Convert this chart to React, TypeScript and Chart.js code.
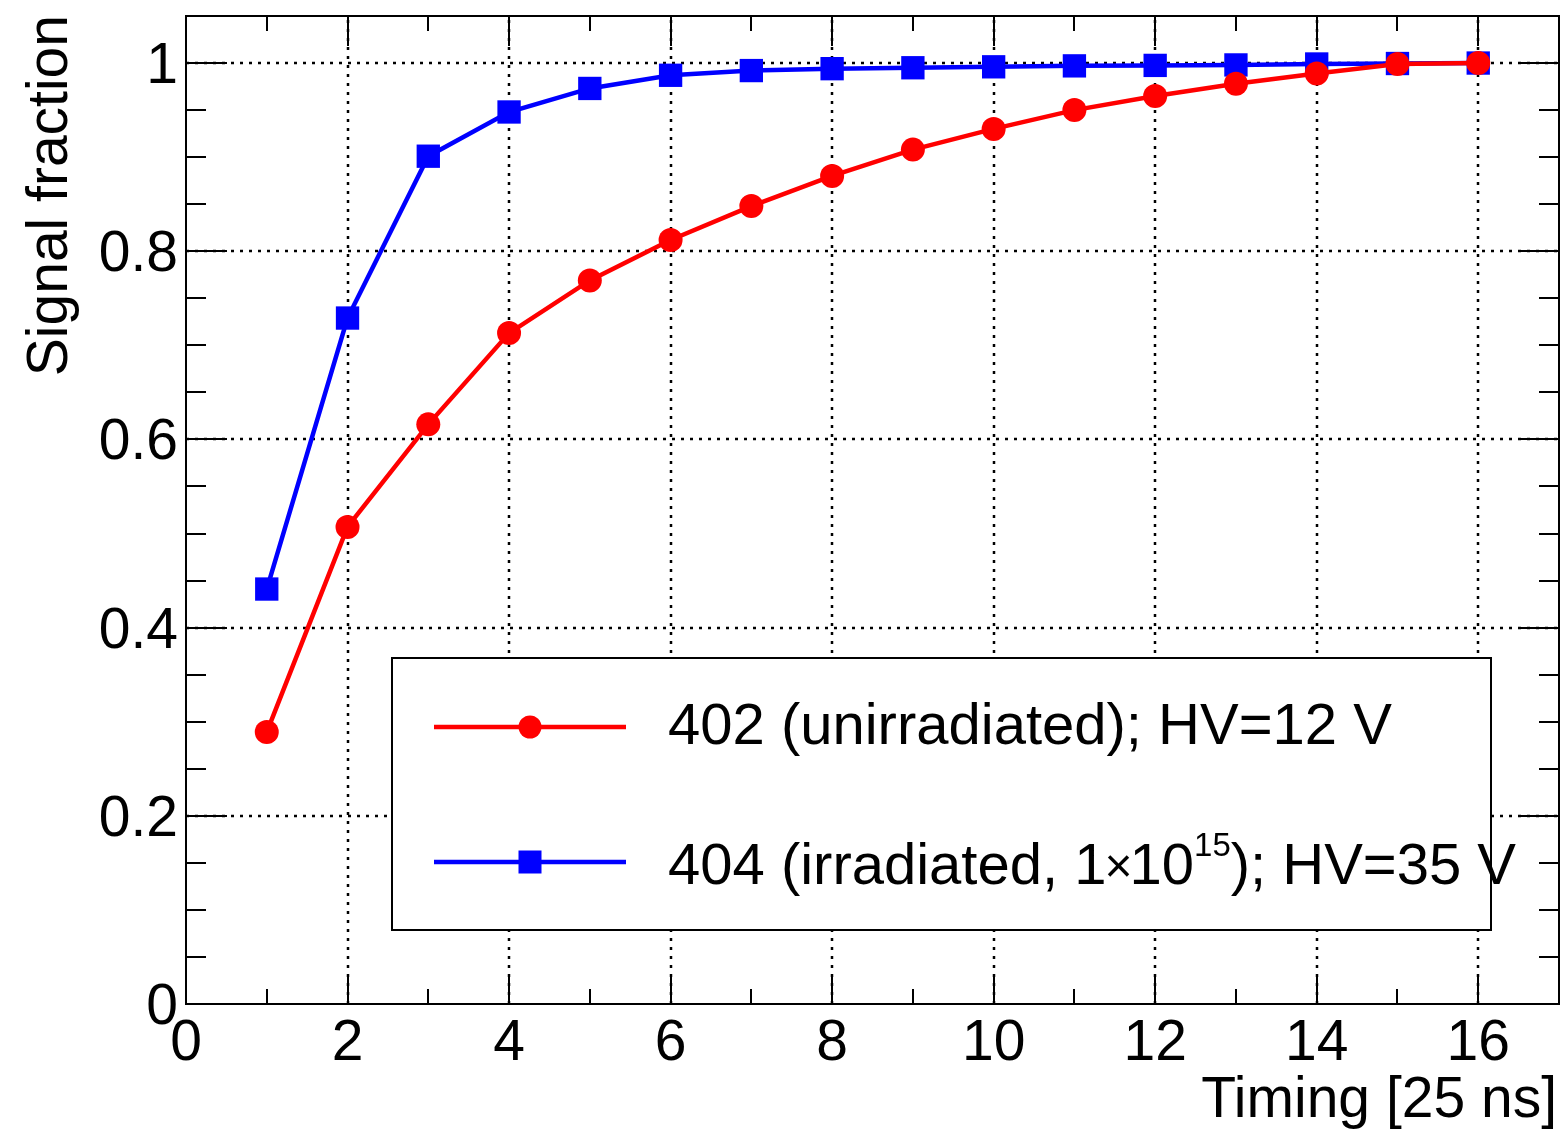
import React, { useEffect, useRef } from "react";
import { Chart, registerables } from "chart.js";

Chart.register(...registerables);

// ---- data ----
const timing = [1, 2, 3, 4, 5, 6, 7, 8, 9, 10, 11, 12, 13, 14, 15, 16];
const unirradiated402 = [0.289, 0.507, 0.616, 0.713, 0.769, 0.812, 0.848, 0.880, 0.908, 0.930, 0.950, 0.965, 0.978, 0.989, 0.999, 1.0];
const irradiated404 = [0.441, 0.729, 0.901, 0.948, 0.973, 0.987, 0.992, 0.994, 0.995, 0.996, 0.997, 0.9975, 0.998, 0.999, 0.9995, 1.0];

const xMajorTicks = [0, 2, 4, 6, 8, 10, 12, 14, 16];
const xMinorTicks = [1, 3, 5, 7, 9, 11, 13, 15];
const xTickLabels = ["0", "2", "4", "6", "8", "10", "12", "14", "16"];
const yMajorTicks = [0, 0.2, 0.4, 0.6, 0.8, 1.0];
const yTickLabels = ["0", "0.2", "0.4", "0.6", "0.8", "1"];
const yMinorTicks = [0.05, 0.1, 0.15, 0.25, 0.3, 0.35, 0.45, 0.5, 0.55, 0.65, 0.7, 0.75, 0.85, 0.9, 0.95];
const xGrid = [2, 4, 6, 8, 10, 12, 14, 16];
const yGrid = [0.2, 0.4, 0.6, 0.8, 1.0];

const seriesNames = ["402 (unirradiated); HV=12 V", "404 (irradiated, 1\u00d710^15); HV=35 V"];
const xTitle = "Timing [25 ns]";
const yTitle = "Signal fraction";

const RED = "#ff0000";
const BLUE = "#0000ff";
const FONT = '"Liberation Sans", Arial, Helvetica, sans-serif';

const rootPlugin = {
  id: "rootStyle",
  beforeDatasetsDraw(chart: any) {
    const { ctx, chartArea, scales } = chart;
    const xs = scales.x;
    const ys = scales.y;
    ctx.save();
    ctx.strokeStyle = "#000";
    ctx.lineWidth = 2.5;
    ctx.setLineDash([3, 6]);
    for (const v of xGrid) {
      const px = Math.round(xs.getPixelForValue(v));
      ctx.beginPath();
      ctx.moveTo(px, chartArea.bottom);
      ctx.lineTo(px, chartArea.top);
      ctx.stroke();
    }
    for (const v of yGrid) {
      const py = Math.round(ys.getPixelForValue(v));
      ctx.beginPath();
      ctx.moveTo(chartArea.left, py);
      ctx.lineTo(chartArea.right, py);
      ctx.stroke();
    }
    ctx.restore();
  },
  afterDatasetsDraw(chart: any) {
    const { ctx, chartArea, scales } = chart;
    const xs = scales.x;
    const ys = scales.y;
    const L = chartArea.left, R = chartArea.right, T = chartArea.top, B = chartArea.bottom;
    ctx.save();

    // legend box
    const lx0 = 392, ly0 = 658, lx1 = 1491, ly1 = 930;
    ctx.fillStyle = "#fff";
    ctx.fillRect(lx0, ly0, lx1 - lx0, ly1 - ly0);
    ctx.strokeStyle = "#000";
    ctx.lineWidth = 2;
    ctx.setLineDash([]);
    ctx.strokeRect(lx0, ly0, lx1 - lx0, ly1 - ly0);

    // legend entries
    const rows = [727, 862];
    ctx.strokeStyle = RED;
    ctx.lineWidth = 4.5;
    ctx.beginPath();
    ctx.moveTo(434, rows[0]);
    ctx.lineTo(626, rows[0]);
    ctx.stroke();
    ctx.fillStyle = RED;
    ctx.beginPath();
    ctx.arc(530, rows[0], 11.5, 0, Math.PI * 2);
    ctx.fill();
    ctx.strokeStyle = BLUE;
    ctx.beginPath();
    ctx.moveTo(434, rows[1]);
    ctx.lineTo(626, rows[1]);
    ctx.stroke();
    ctx.fillStyle = BLUE;
    ctx.fillRect(530 - 11.5, rows[1] - 11.5, 23, 23);

    ctx.fillStyle = "#000";
    ctx.textBaseline = "alphabetic";
    ctx.textAlign = "left";
    ctx.font = `58px ${FONT}`;
    ctx.fillText(seriesNames[0], 668, 744);

    // second entry with superscript
    const parts1 = seriesNames[1].split("^");
    const pre = parts1[0];
    const rest = parts1[1];
    const sup = rest.slice(0, 2);
    const post = rest.slice(2);
    const timesIdx = pre.indexOf("\u00d7");
    const preA = pre.slice(0, timesIdx);
    const preB = pre.slice(timesIdx + 1);
    let cx = 668;
    const base = 884;
    ctx.font = `58px ${FONT}`;
    ctx.fillText(preA, cx, base);
    cx += ctx.measureText(preA).width - 2;
    ctx.font = `48px ${FONT}`;
    ctx.fillText("\u00d7", cx, base - 2);
    cx += ctx.measureText("\u00d7").width - 3;
    ctx.font = `58px ${FONT}`;
    ctx.fillText(preB, cx, base);
    cx += ctx.measureText(preB).width;
    ctx.font = `33px ${FONT}`;
    ctx.fillText(sup, cx, 856);
    cx += ctx.measureText(sup).width;
    ctx.font = `58px ${FONT}`;
    ctx.fillText(post, cx, base);

    // frame
    ctx.strokeStyle = "#000";
    ctx.lineWidth = 2;
    ctx.strokeRect(L, T, R - L, B - T);

    // ticks
    ctx.lineWidth = 2;
    ctx.beginPath();
    for (const v of xMajorTicks) {
      const px = Math.round(xs.getPixelForValue(v));
      ctx.moveTo(px, B); ctx.lineTo(px, B - 30);
      ctx.moveTo(px, T); ctx.lineTo(px, T + 30);
    }
    for (const v of xMinorTicks) {
      const px = Math.round(xs.getPixelForValue(v));
      ctx.moveTo(px, B); ctx.lineTo(px, B - 15);
      ctx.moveTo(px, T); ctx.lineTo(px, T + 15);
    }
    for (const v of yMajorTicks) {
      const py = Math.round(ys.getPixelForValue(v));
      ctx.moveTo(L, py); ctx.lineTo(L + 41, py);
      ctx.moveTo(R, py); ctx.lineTo(R - 41, py);
    }
    for (const v of yMinorTicks) {
      const py = Math.round(ys.getPixelForValue(v));
      ctx.moveTo(L, py); ctx.lineTo(L + 20, py);
      ctx.moveTo(R, py); ctx.lineTo(R - 20, py);
    }
    ctx.stroke();

    // tick labels
    ctx.fillStyle = "#000";
    ctx.font = `57px ${FONT}`;
    ctx.textAlign = "center";
    ctx.textBaseline = "alphabetic";
    xMajorTicks.forEach((v, i) => {
      const px = xs.getPixelForValue(v);
      ctx.fillText(xTickLabels[i], px, 1060);
    });
    ctx.textAlign = "right";
    yMajorTicks.forEach((v, i) => {
      const py = ys.getPixelForValue(v);
      ctx.fillText(yTickLabels[i], 178, py + 20);
    });

    // axis titles
    ctx.textAlign = "right";
    ctx.fillText(xTitle, 1557, 1117);
    ctx.save();
    ctx.translate(67, 15);
    ctx.rotate(-Math.PI / 2);
    ctx.textAlign = "right";
    ctx.fillText(yTitle, 0, 0);
    ctx.restore();

    ctx.restore();
  },
};

export default function App() {
  const canvasRef = useRef<HTMLCanvasElement | null>(null);

  useEffect(() => {
    const canvas = canvasRef.current;
    if (!canvas) return;
    const chart = new Chart(canvas, {
      type: "line",
      data: {
        datasets: [
          {
            label: seriesNames[0],
            data: timing.map((x, i) => ({ x, y: unirradiated402[i] })),
            borderColor: RED,
            backgroundColor: RED,
            borderWidth: 4.5,
            pointStyle: "circle",
            pointRadius: 12,
            pointBorderWidth: 0,
            pointBackgroundColor: RED,
            tension: 0,
            fill: false,
            clip: false,
          },
          {
            label: seriesNames[1],
            data: timing.map((x, i) => ({ x, y: irradiated404[i] })),
            borderColor: BLUE,
            backgroundColor: BLUE,
            borderWidth: 4.5,
            pointStyle: "rect",
            pointRadius: 16.5,
            pointBorderWidth: 0,
            pointBackgroundColor: BLUE,
            tension: 0,
            fill: false,
            clip: false,
          },
        ],
      },
      options: {
        responsive: false,
        animation: false,
        devicePixelRatio: 1,
        events: [],
        layout: { autoPadding: false, padding: { left: 186, top: 16, right: 7, bottom: 127 } },
        plugins: {
          legend: { display: false },
          tooltip: { enabled: false },
          title: { display: false },
        },
        scales: {
          x: {
            type: "linear",
            min: 0,
            max: 17,
            ticks: { display: false },
            grid: { display: false, drawTicks: false },
            border: { display: false },
            afterFit: (s: any) => { s.height = 0; s.paddingLeft = 0; s.paddingRight = 0; },
          },
          y: {
            type: "linear",
            min: 0,
            max: 1.05,
            ticks: { display: false },
            grid: { display: false, drawTicks: false },
            border: { display: false },
            afterFit: (s: any) => { s.width = 0; s.paddingTop = 0; s.paddingBottom = 0; },
          },
        },
      },
      plugins: [rootPlugin],
    } as any);
    return () => chart.destroy();
  }, []);

  return (
    <div style={{ position: "absolute", left: 0, top: 0, width: 1566, height: 1131, background: "#fff" }}>
      <canvas ref={canvasRef} width={1566} height={1131} style={{ display: "block", width: 1566, height: 1131 }} />
    </div>
  );
}
